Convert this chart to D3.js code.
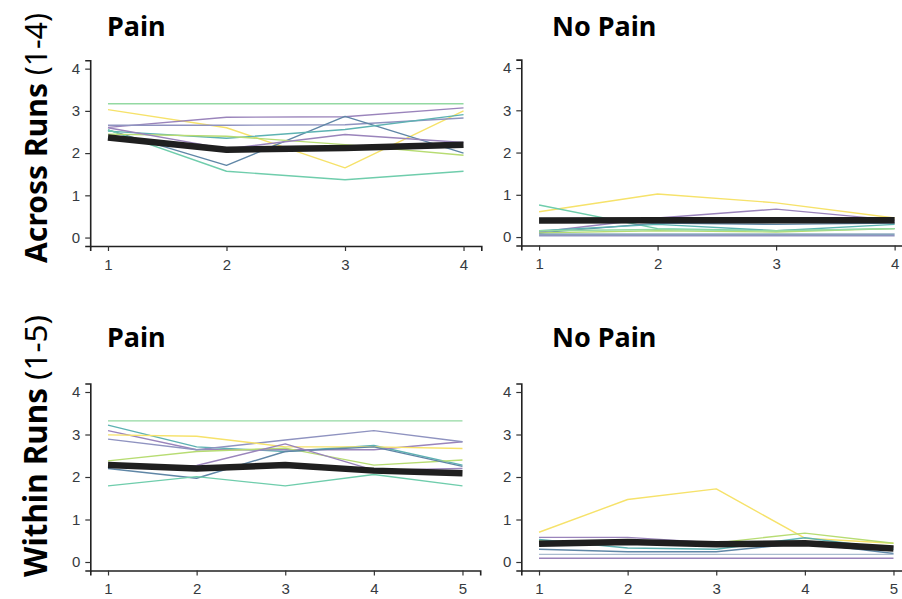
<!DOCTYPE html>
<html><head><meta charset="utf-8">
<script src="https://cdn.jsdelivr.net/npm/d3@7"></script>
<style>
body{margin:0;background:#fff;}
svg{display:block;}
</style></head>
<body>
<svg id="c" width="902" height="599"></svg>
<script>
// ---------- data ----------
const rowLabels = ["Across Runs", "Within Runs"];
const rowRanges = ["(1-4)", "(1-5)"];
const panelTitles = ["Pain", "No Pain"];
const yTicks = [0, 1, 2, 3, 4];
const xTicksAcross = [1, 2, 3, 4];
const xTicksWithin = [1, 2, 3, 4, 5];

const palette = ["#9a84bb", "#8f93c0", "#5f86a6", "#5db2b2", "#6fcdac", "#93d9a2", "#b7dc72", "#f6e26a", "#a9bccf"];

// Across Runs – Pain
const acrossPainColors = [5, 7, 0, 1, 2, 3, 4, 6, 0];
const acrossPain = [
  [3.17, 3.17, 3.17, 3.17],
  [3.03, 2.60, 1.65, 3.00],
  [2.61, 2.85, 2.86, 3.07],
  [2.66, 2.66, 2.67, 2.83],
  [2.55, 1.71, 2.87, 2.00],
  [2.52, 2.35, 2.56, 2.91],
  [2.55, 1.57, 1.37, 1.57],
  [2.45, 2.40, 2.20, 1.95],
  [2.60, 2.10, 2.44, 2.25]
];
const acrossPainMean = [2.37, 2.08, 2.12, 2.20];

// Across Runs – No Pain
const acrossNoPainColors = [7, 4, 0, 2, 3, 6, 5, 1, 2];
const acrossNoPain = [
  [0.60, 1.02, 0.81, 0.45],
  [0.76, 0.20, 0.15, 0.20],
  [0.12, 0.45, 0.66, 0.40],
  [0.10, 0.33, 0.30, 0.33],
  [0.15, 0.30, 0.15, 0.30],
  [0.10, 0.15, 0.12, 0.20],
  [0.15, 0.18, 0.15, 0.20],
  [0.03, 0.03, 0.03, 0.03],
  [0.07, 0.07, 0.07, 0.07]
];
const acrossNoPainMean = [0.39, 0.40, 0.40, 0.40];

// Within Runs – Pain
const withinPainColors = [5, 3, 0, 1, 7, 6, 2, 4, 0];
const withinPain = [
  [3.32, 3.32, 3.32, 3.32, 3.32],
  [3.22, 2.71, 2.60, 2.74, 2.28],
  [3.09, 2.64, 2.64, 2.64, 2.83],
  [2.89, 2.64, 2.87, 3.09, 2.83],
  [2.99, 2.96, 2.71, 2.71, 2.67],
  [2.38, 2.60, 2.68, 2.28, 2.40],
  [2.20, 1.97, 2.60, 2.71, 2.25],
  [1.79, 2.01, 1.79, 2.06, 1.79],
  [2.25, 2.27, 2.78, 2.16, 2.20]
];
const withinPainMean = [2.28, 2.20, 2.28, 2.15, 2.09];

// Within Runs – No Pain
const withinNoPainColors = [7, 6, 0, 3, 2, 8, 0];
const withinNoPain = [
  [0.70, 1.47, 1.72, 0.56, 0.44],
  [0.50, 0.45, 0.45, 0.68, 0.44],
  [0.58, 0.58, 0.45, 0.45, 0.35],
  [0.53, 0.33, 0.30, 0.57, 0.30],
  [0.30, 0.24, 0.24, 0.45, 0.20],
  [0.18, 0.18, 0.18, 0.18, 0.18],
  [0.09, 0.09, 0.09, 0.09, 0.09]
];
const withinNoPainMean = [0.43, 0.47, 0.42, 0.44, 0.32];

// ---------- layout ----------
const svg = d3.select("#c");
const panels = [
  {title:panelTitles[0], ticks:xTicksAcross, series:acrossPain, colors:acrossPainColors, mean:acrossPainMean,
   xr:[90.2, 481.3], yr:[246, 60.2], titleX:107, titleY:36},
  {title:panelTitles[1], ticks:xTicksAcross, series:acrossNoPain, colors:acrossNoPainColors, mean:acrossNoPainMean,
   xr:[521.3, 912.4], yr:[245.5, 59.6], titleX:552, titleY:36},
  {title:panelTitles[0], ticks:xTicksWithin, series:withinPain, colors:withinPainColors, mean:withinPainMean,
   xr:[90.3, 480.2], yr:[570.5, 383.5], titleX:107, titleY:347},
  {title:panelTitles[1], ticks:xTicksWithin, series:withinNoPain, colors:withinNoPainColors, mean:withinNoPainMean,
   xr:[521.3, 911.2], yr:[570.5, 383.5], titleX:552, titleY:347}
];

panels.forEach(p => {
  const n = p.ticks.length;
  const pad = (n - 1) * 0.05;
  const x = d3.scaleLinear().domain([1 - pad, n + pad]).range(p.xr);
  const y = d3.scaleLinear().domain([-0.2, 4.2]).range(p.yr);
  const g = svg.append("g");

  const line = d3.line().x((d, i) => x(p.ticks[i])).y(d => y(d));

  g.selectAll("path.s").data(p.series).join("path")
    .attr("class", "s")
    .attr("d", d => line(d))
    .attr("fill", "none")
    .attr("stroke", (d, i) => palette[p.colors[i]])
    .attr("stroke-width", 1.4)
    .attr("stroke-linejoin", "round");

  g.append("path")
    .attr("d", line(p.mean))
    .attr("fill", "none")
    .attr("stroke", "#1f1f1f")
    .attr("stroke-width", 6.5)
    .attr("stroke-linejoin", "round");

  const xAxis = g.append("g").attr("transform", `translate(0,${p.yr[0]})`)
    .call(d3.axisBottom(x).tickValues(p.ticks).tickFormat(d3.format("d")).tickSizeOuter(0).tickSize(5).tickPadding(8));
  const yAxis = g.append("g").attr("transform", `translate(${p.xr[0]},0)`)
    .call(d3.axisLeft(y).tickValues(yTicks).tickFormat(d3.format("d")).tickSizeOuter(0).tickSize(5).tickPadding(5));
  [xAxis, yAxis].forEach(a => {
    a.select(".domain").attr("stroke", "#222").attr("stroke-width", 1.6);
    a.selectAll(".tick line").attr("stroke", "#333").attr("stroke-width", 1.2);
    a.selectAll(".tick text").attr("fill", "#353a40")
      .style("font-family", "'Liberation Sans', Arial, sans-serif").style("font-size", "15px");
  });

  svg.append("text")
    .attr("x", p.titleX).attr("y", p.titleY)
    .style("font-family", "'Noto Sans', sans-serif").style("font-weight", "bold").style("font-size", "27px")
    .attr("fill", "#000").text(p.title);
});

// row labels
const rowCenters = [138, 446];
const rowLengths = [250, 262];
rowLabels.forEach((lab, i) => {
  const t = svg.append("text")
    .attr("transform", `translate(47,${rowCenters[i]}) rotate(-90)`)
    .attr("text-anchor", "middle")
    .style("font-family", "'Noto Sans', sans-serif").style("font-size", "29px").attr("fill", "#000");
  t.append("tspan").style("font-weight", "bold").text(lab);
  t.append("tspan").style("font-weight", "normal").text(" " + rowRanges[i]);
  const len = t.node().getComputedTextLength();
  t.style("font-size", (29 * rowLengths[i] / len).toFixed(2) + "px");
});
</script>
</body></html>
